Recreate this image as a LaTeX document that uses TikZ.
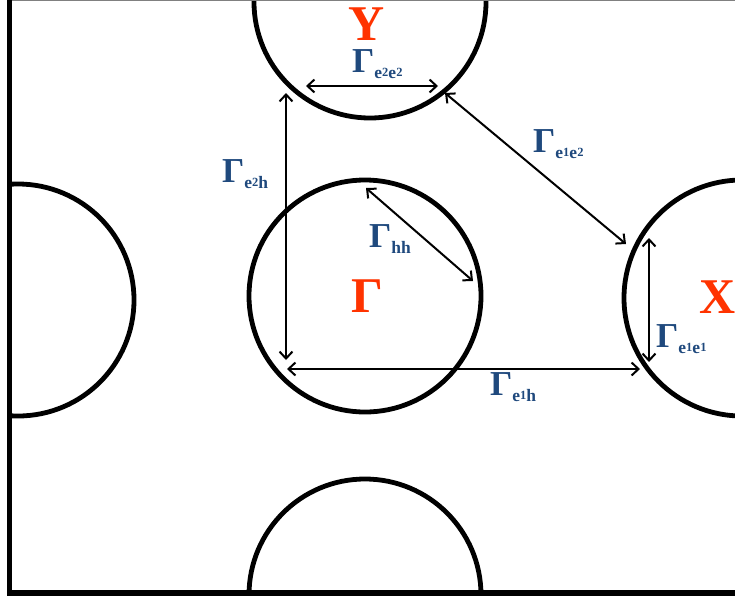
\documentclass[tikz,border=0pt]{standalone}
\usepackage{fontspec}
\setmainfont{Liberation Serif}
\usetikzlibrary{arrows.meta}
\definecolor{lblue}{HTML}{1F497D}
\definecolor{lred}{RGB}{255,51,0}
\newcommand\dg[1]{\raisebox{1.5pt}{\fontsize{12.5}{12.5}\selectfont #1}}
\newcommand\glab[1]{{\fontsize{35}{35}\selectfont Γ}\raisebox{-6pt}{\fontsize{17.5}{17.5}\selectfont #1}}
\tikzset{
  pore/.style={line width=4.8pt, draw=black},
  link/.style={line width=2pt, {Straight Barb[length=7pt,width=13pt]}-{Straight Barb[length=7pt,width=13pt]}},
  lab/.style={text=lblue, font=\bfseries, inner sep=0pt, anchor=base west},
  rlab/.style={text=lred, font=\bfseries\fontsize{50}{50}\selectfont, inner sep=0pt, text depth=0pt},
}
\begin{document}
\begin{tikzpicture}[x=1pt,y=-1pt]
\useasboundingbox (0,0) rectangle (735,600);
% circles (pores)
\begin{scope}
  \clip (12,0) rectangle (735,592);
  \draw[pore] (18,300) circle[radius=116];
  \draw[pore] (365,296) circle[radius=116];
  \draw[pore] (370,2) circle[radius=116];
  \draw[pore] (365,595) circle[radius=116];
  \draw[pore] (742,298) circle[radius=118];
\end{scope}
% frame
\draw[line width=1pt, gray] (12,0.5) -- (735,0.5);
\draw[line width=5.6pt, line cap=rect] (9.5,0) -- (9.5,593) -- (735,593);
% arrow end points
\coordinate (a1) at (306,86);  \coordinate (a2) at (438,86);
\coordinate (b1) at (286,93);  \coordinate (b2) at (286,360);
\coordinate (c1) at (287,369); \coordinate (c2) at (640,369);
\coordinate (d1) at (366,188); \coordinate (d2) at (473,281);
\coordinate (e1) at (445,93);  \coordinate (e2) at (626,244);
\coordinate (f1) at (649,238); \coordinate (f2) at (649,362);
\draw[link] (a1) -- (a2);
\draw[link] (b1) -- (b2);
\draw[link] (c1) -- (c2);
\draw[link] (d1) -- (d2);
\draw[link] (e1) -- (e2);
\draw[link] (f1) -- (f2);
% labels
\node[lab] (le2e2) at (352,72) {\glab{e\dg{2}e\dg{2}}};
\node[lab] (le2h) at (222,182) {\glab{e\dg{2}h}};
\node[lab] (lhh) at (369,247) {\glab{hh}};
\node[lab] (le1e2) at (533,152) {\glab{e\dg{1}e\dg{2}}};
\node[lab] (le1e1) at (656,347) {\glab{e\dg{1}e\dg{1}}};
\node[lab] (le1h) at (490,395) {\glab{e\dg{1}h}};
\node[rlab, anchor=base] (Y) at (367,40) {Y};
\node[rlab, anchor=base] (G) at (367,312) {Γ};
\node[rlab, anchor=base west] (X) at (699,313) {X};
\end{tikzpicture}
\end{document}
